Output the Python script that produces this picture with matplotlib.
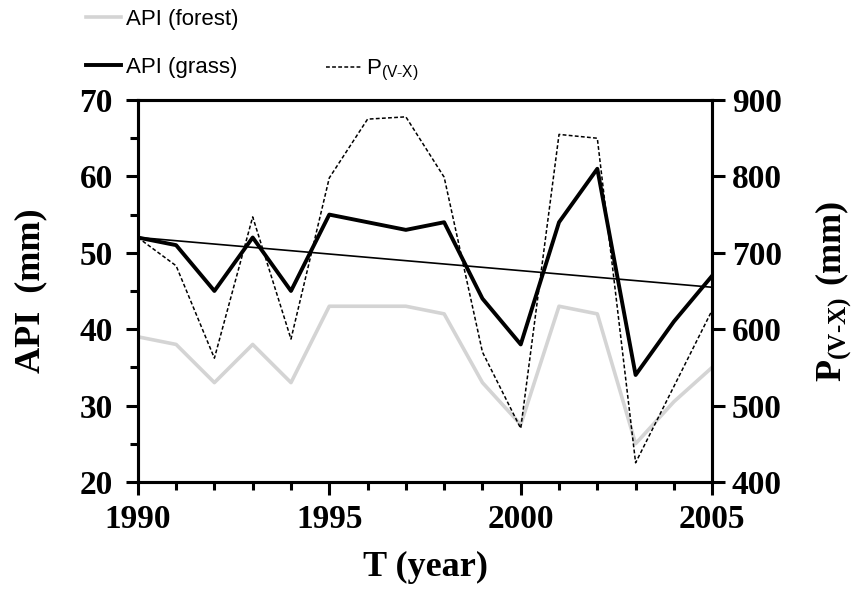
import numpy as np
import matplotlib
matplotlib.use("Agg")
from matplotlib import pyplot as plt
from matplotlib.ticker import MultipleLocator

plt.rcParams['mathtext.fontset'] = 'custom'
plt.rcParams['mathtext.rm'] = 'Liberation Serif'
plt.rcParams['mathtext.bf'] = 'Liberation Serif:bold'
plt.rcParams['mathtext.sf'] = 'Liberation Sans'

# yearly series
years = list(range(1990, 2006))
api_forest = [39, 38, 33, 38, 33, 43, 43, 43, 42, 33, 27.5, 43, 42, 25, 30.5, 35]
api_grass = [52, 51, 45, 52, 45, 55, 54, 53, 54, 44, 38, 54, 61, 34, 41, 47]
p_vx = [720, 683, 562, 747, 587, 798, 875, 878, 799, 570, 470, 855, 850, 425, 525, 625]

serif = 'Liberation Serif'
sans = 'Liberation Sans'

fig = plt.figure(figsize=(8.56, 5.92), dpi=100)
ax1 = fig.add_axes([0.161, 0.186, 0.671, 0.645])
ax2 = ax1.twinx()

l_forest, = ax1.plot(years, api_forest, color='#d4d4d4', lw=2.6, zorder=2)
l_grass, = ax1.plot(years, api_grass, color='black', lw=2.8, zorder=4)
l_p, = ax2.plot(years, p_vx, color='black', lw=1.1, ls=(0, (2.5, 1.5)), zorder=3)

# linear trend of grass API
coef = np.polyfit(years, api_grass, 1)
ax1.plot([years[0], years[-1]], np.polyval(coef, [years[0], years[-1]]),
         color='black', lw=1.2, zorder=3)

ax1.set_xlim(1990, 2005)
ax1.set_ylim(20, 70)
ax2.set_ylim(400, 900)
ax1.xaxis.set_major_locator(MultipleLocator(5))
ax1.xaxis.set_minor_locator(MultipleLocator(1))
ax1.yaxis.set_major_locator(MultipleLocator(10))
ax1.yaxis.set_minor_locator(MultipleLocator(5))
ax2.yaxis.set_major_locator(MultipleLocator(100))

for ax in (ax1, ax2):
    for sp in ax.spines.values():
        sp.set_linewidth(2.2)
    ax.tick_params(which='major', direction='out', length=9, width=2.2,
                   labelsize=24, pad=7)
    ax.tick_params(which='minor', direction='out', length=5.5, width=2.2)
    for lab in ax.get_xticklabels() + ax.get_yticklabels():
        lab.set_fontfamily(serif)
        lab.set_fontweight('bold')
ax1.tick_params(axis='y', pad=9)
ax2.tick_params(axis='y', pad=5)

ax1.set_xlabel('T (year)', fontfamily=serif, fontweight='bold', fontsize=26)
ax1.set_ylabel('API  (mm)', fontfamily=serif, fontweight='bold', fontsize=26)
ax2.set_ylabel(r'$\mathbf{P_{(V\text{-}X)}\ (mm)}$', fontsize=26)
ax1.xaxis.set_label_coords(0.5, -0.182)
ax1.yaxis.set_label_coords(-0.158, 0.5)
ax2.yaxis.set_label_coords(1.176, 0.5)

fig.legend([l_forest, l_grass], ['API (forest)', 'API (grass)'],
           loc='upper left', bbox_to_anchor=(0.09, 1.0), frameon=False,
           prop={'family': sans, 'size': 16}, handlelength=1.6,
           handletextpad=0.2, labelspacing=1.2, borderaxespad=0)
fig.legend([l_p], [r'P$_{\mathsf{(V\text{-}X)}}$'],
           loc='upper left', bbox_to_anchor=(0.37, 0.917), frameon=False,
           prop={'family': sans, 'size': 16}, handlelength=1.6,
           handletextpad=0.2, borderaxespad=0)

fig.savefig('out.png', dpi=100)
